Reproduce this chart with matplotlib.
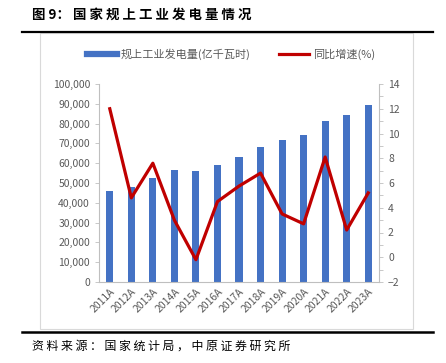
import matplotlib.pyplot as plt
from matplotlib.patches import Rectangle
from matplotlib.lines import Line2D

plt.rcParams['font.family'] = ['Noto Sans CJK SC', 'DejaVu Sans']

years = ['2011A', '2012A', '2013A', '2014A', '2015A', '2016A', '2017A',
         '2018A', '2019A', '2020A', '2021A', '2022A', '2023A']
output = [46200, 48200, 52600, 56700, 56300, 59200, 62900,
          68000, 71600, 74300, 81200, 84100, 89300]
growth = [12.0, 4.8, 7.6, 3.0, -0.2, 4.5, 5.75,
          6.8, 3.5, 2.7, 8.1, 2.2, 5.2]

gray = '#595959'
fig = plt.figure(figsize=(4.46, 3.63), dpi=100)
W, H = 446, 363

# title, source and rules (spaces between chars give the wide letter spacing)
fig.text(32 / W, 1 - 15 / H, '图 9： ' + ' '.join('国家规上工业发电量情况'),
         fontsize=9.7, fontweight='bold', va='center', ha='left')
fig.text(32 / W, 1 - 346 / H, ' '.join('资料来源：国家统计局，中原证券研究所'),
         fontsize=8.6, va='center', ha='left')
fig.add_artist(Line2D([22 / W, 433 / W], [1 - 31.5 / H, 1 - 31.5 / H], color='black', lw=1.6))
fig.add_artist(Line2D([22 / W, 433 / W], [1 - 332 / H, 1 - 332 / H], color='black', lw=1.8))
fig.add_artist(Rectangle((40 / W, 1 - 329 / H), 373 / W, 296 / H, fill=False,
                         edgecolor='#d9d9d9', lw=0.8))

ax = fig.add_axes([99 / W, 1 - 282 / H, 280 / W, 198 / H])
x = range(len(years))
ax.bar(x, output, width=0.33, color='#4472C4', label='规上工业发电量(亿千瓦时)')
ax.set_ylim(0, 100000)
ax.set_yticks(range(0, 100001, 10000))
ax.set_yticklabels([f'{v:,}' for v in range(0, 100001, 10000)])
ax.set_xlim(-0.5, len(years) - 0.5)
ax.set_xticks(list(x))
ax.set_xticklabels(years, rotation=45, ha='right', rotation_mode='anchor')

ax2 = ax.twinx()
ax2.plot(list(x), growth, color='#C00000', lw=2.3, label='同比增速(%)')
ax2.set_ylim(-2, 14)
ax2.set_yticks(range(-2, 15, 2))
ax2.set_yticks(range(-2, 15), minor=True)

for a in (ax, ax2):
    for s in a.spines.values():
        s.set_visible(False)
    a.tick_params(colors=gray, labelsize=7.5, length=3, width=0.6, color='#bfbfbf')
    a.tick_params(which='minor', length=3, width=0.6, color='#bfbfbf')
ax.spines['left'].set_visible(True)
ax.spines['left'].set_color('#bfbfbf')
ax.spines['bottom'].set_visible(True)
ax.spines['bottom'].set_color('#bfbfbf')
ax2.spines['right'].set_visible(True)
ax2.spines['right'].set_color('#bfbfbf')
ax.tick_params(axis='x', length=0, pad=3)

h1, l1 = ax.get_legend_handles_labels()
h2, l2 = ax2.get_legend_handles_labels()
fig.legend([Line2D([], [], color='#4472C4', lw=4.5), Line2D([], [], color='#C00000', lw=2.3)],
           l1 + l2, loc='center', bbox_to_anchor=(231 / W, 1 - 54 / H), ncol=2,
           frameon=False, fontsize=8, labelcolor=gray, handlelength=2.7,
           columnspacing=2.6, handletextpad=0.3)

fig.savefig('out.png', dpi=100)
